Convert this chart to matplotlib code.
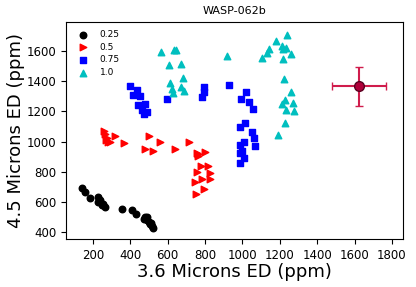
import matplotlib
matplotlib.use('Agg')
import matplotlib.pyplot as plt
import numpy as np

# eclipse depths (ppm)
x_025 = [141, 159, 182, 230, 239, 253, 266, 228, 248, 355, 409, 432, 480, 492, 507, 524, 475, 500, 512, 488, 516]
y_025 = [695, 664, 628, 635, 613, 591, 569, 600, 580, 554, 547, 525, 503, 481, 453, 426, 490, 470, 460, 500, 440]

x_05 = [257, 266, 275, 293, 319, 364, 503, 560, 480, 521, 640, 712, 756, 801, 760, 762, 779, 818, 828, 756,
        747, 783, 828, 792, 751, 270, 283]
y_05 = [1071, 1050, 1021, 999, 1036, 988, 1038, 999, 948, 937, 948, 999, 926, 932, 904, 917, 838, 838, 790, 800,
        734, 750, 750, 684, 653, 1010, 1000]

x_075 = [400, 435, 417, 453, 444, 480, 462, 489, 471, 596, 792, 797, 786, 931, 1020, 992, 1033, 1059,
         1015, 988, 1051, 1063, 1006, 988, 1065, 997, 988, 1006, 988]
y_075 = [1369, 1340, 1307, 1303, 1241, 1246, 1208, 1197, 1180, 1279, 1362, 1329, 1296, 1373, 1329, 1285, 1263, 1215,
         1120, 1094, 1065, 1025, 999, 981, 972, 937, 928, 893, 856]

x_10 = [564, 635, 646, 610, 671, 917, 614, 682, 623, 671, 685, 631, 1104, 1131, 1143, 1181, 1241, 1211, 1234,
        1220, 1259, 1216, 1225, 1259, 1229, 1211, 1270, 1234, 1277, 1229, 1193]
y_10 = [1593, 1605, 1605, 1505, 1512, 1565, 1388, 1418, 1351, 1362, 1336, 1322, 1556, 1583, 1609, 1666, 1708, 1631, 1622,
        1609, 1578, 1543, 1411, 1327, 1274, 1252, 1256, 1208, 1203, 1120, 1047]

obs_x, obs_xerr = 1624, 145
obs_y, obs_yerr = 1365, 128

fig = plt.figure(figsize=(4.16, 2.87), dpi=100)
ax = fig.add_axes([0.159, 0.167, 0.81, 0.756])

ax.scatter(x_025, y_025, c='k', marker='o', s=22, label='0.25')
ax.scatter(x_05, y_05, c='r', marker='>', s=22, label='0.5')
ax.scatter(x_075, y_075, c='b', marker='s', s=22, label='0.75')
ax.scatter(x_10, y_10, c='c', marker='^', s=22, label='1.0')

ax.errorbar(obs_x, obs_y, xerr=obs_xerr, yerr=obs_yerr, fmt='o', color='#d01c4c',
            mfc='#b0003a', mec='#5a0020', ms=7, capsize=3, elinewidth=1.5, capthick=1)

ax.set_xlim(57, 1860)
ax.set_ylim(356, 1790)
ax.set_xticks(np.arange(200, 1801, 200))
ax.set_yticks(np.arange(400, 1601, 200))
ax.tick_params(labelsize=8.5)

ax.set_title('WASP-062b', fontsize=8)
ax.set_xlabel('3.6 Microns ED (ppm)', fontsize=13, labelpad=1)
ax.set_ylabel('4.5 Microns ED (ppm)', fontsize=13, labelpad=1)
ax.legend(loc='upper left', fontsize=6.5, frameon=False, handletextpad=0.8, labelspacing=0.4)

fig.savefig('out.png', dpi=100)
